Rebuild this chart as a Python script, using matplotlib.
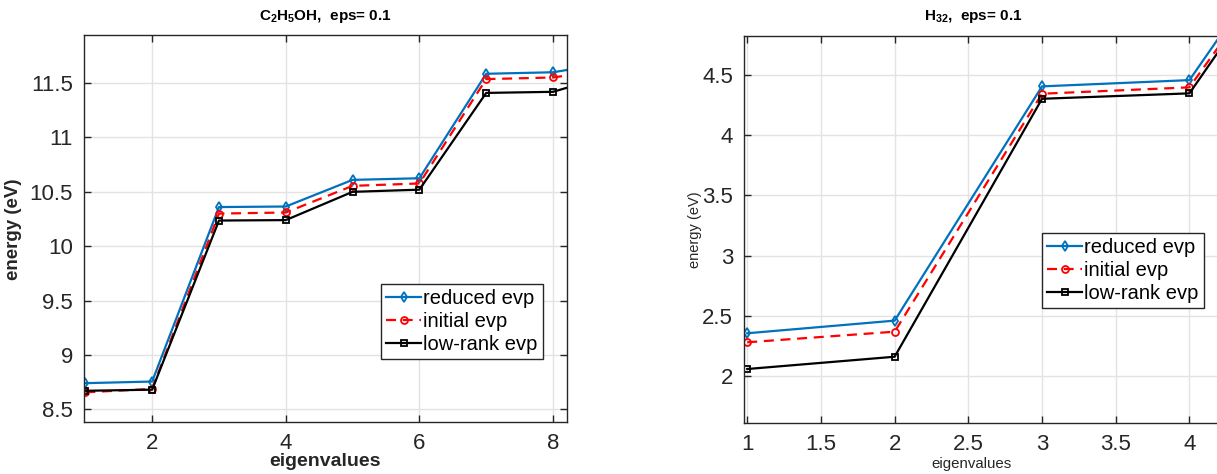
import matplotlib
matplotlib.use("Agg")
import matplotlib.pyplot as plt

plt.rcParams['font.family'] = ['Liberation Sans', 'DejaVu Sans']
plt.rcParams['mathtext.fontset'] = 'custom'
plt.rcParams['mathtext.rm'] = 'Liberation Sans:bold'
plt.rcParams['mathtext.bf'] = 'Liberation Sans:bold'
plt.rcParams['mathtext.default'] = 'bf'

# data
eig_c2h5oh = [1, 2, 3, 4, 5, 6, 7, 8, 9]
reduced_c2h5oh = [8.74, 8.755, 10.36, 10.365, 10.61, 10.625, 11.586, 11.60, 11.70]
initial_c2h5oh = [8.656, 8.687, 10.30, 10.31, 10.555, 10.577, 11.537, 11.552, 11.64]
lowrank_c2h5oh = [8.67, 8.68, 10.236, 10.24, 10.50, 10.52, 11.41, 11.42, 11.60]

eig_h32 = [1, 2, 3, 4, 5]
reduced_h32 = [2.355, 2.46, 4.406, 4.458, 6.22]
initial_h32 = [2.28, 2.368, 4.345, 4.398, 6.10]
lowrank_h32 = [2.058, 2.16, 4.303, 4.348, 6.11]

blue = '#0072BD'
tick_col = '#262626'

fig = plt.figure(figsize=(12.17, 4.74), dpi=100)
W, H = 1217, 474
ax1 = fig.add_axes([84 / W, (H - 422.3) / H, 482.7 / W, 387 / H])
ax2 = fig.add_axes([744.3 / W, (H - 423.3) / H, 482.7 / W, 387.6 / H])


def draw(ax, x, red_, ini, low):
    ax.plot(x, red_, color=blue, lw=1.6, marker='d', ms=5.5, mfc='none', mew=1.3,
            label='reduced evp')
    ax.plot(x, ini, color='red', lw=1.6, ls=(0, (4.5, 3)), marker='o', ms=5,
            mfc='none', mew=1.3, label='initial evp')
    ax.plot(x, low, color='black', lw=1.6, marker='s', ms=4.5, mfc='none', mew=1.3,
            label='low-rank evp')
    ax.grid(True, color='#e3e3e3', lw=1)
    ax.set_axisbelow(True)
    ax.tick_params(direction='in', length=5, width=1, top=True, right=True,
                   labelsize=16, colors=tick_col, pad=8)
    for s in ax.spines.values():
        s.set_color('#262626')
        s.set_linewidth(1)


def legend(ax, anchor):
    leg = ax.legend(loc='upper left', bbox_to_anchor=anchor, fontsize=14.5,
                    frameon=True, fancybox=False, edgecolor='#262626', framealpha=1,
                    handlelength=1.75, handletextpad=0.1, borderpad=0.25,
                    labelspacing=0.2, borderaxespad=0)
    leg.get_frame().set_linewidth(1)


draw(ax1, eig_c2h5oh, reduced_c2h5oh, initial_c2h5oh, lowrank_c2h5oh)
ax1.set_xlim(0.98, 8.205)
ax1.set_ylim(8.38, 11.94)
ax1.set_xticks([2, 4, 6, 8])
ax1.set_yticks([8.5, 9, 9.5, 10, 10.5, 11, 11.5])
ax1.set_yticklabels(['8.5', '9', '9.5', '10', '10.5', '11', '11.5'])
ax1.set_title('C$_2$H$_5$OH,  eps= 0.1', fontsize=11, fontweight='bold', pad=11)
ax1.set_xlabel('eigenvalues', fontsize=14, fontweight='bold', color=tick_col)
ax1.set_ylabel('energy (eV)', fontsize=13.5, fontweight='bold', color=tick_col)
ax1.xaxis.set_label_coords(0.5, -0.08)
ax1.yaxis.set_label_coords(-0.128, 0.5)
legend(ax1, (0.615, 0.357))

draw(ax2, eig_h32, reduced_h32, initial_h32, lowrank_h32)
ax2.set_xlim(0.98, 4.255)
ax2.set_ylim(1.607, 4.827)
ax2.set_xticks([1, 1.5, 2, 2.5, 3, 3.5, 4])
ax2.set_xticklabels(['1', '1.5', '2', '2.5', '3', '3.5', '4'])
ax2.set_yticks([2, 2.5, 3, 3.5, 4, 4.5])
ax2.set_yticklabels(['2', '2.5', '3', '3.5', '4', '4.5'])
ax2.set_title('H$_{32}$,  eps= 0.1', fontsize=11, fontweight='bold', pad=11,
              x=0.475)
ax2.set_xlabel('eigenvalues', fontsize=10.8, color=tick_col)
ax2.set_ylabel('energy (eV)', fontsize=10.5, color=tick_col)
ax2.xaxis.set_label_coords(0.47, -0.088)
ax2.yaxis.set_label_coords(-0.088, 0.5)
legend(ax2, (0.617, 0.491))

fig.savefig('out.png', dpi=100)
